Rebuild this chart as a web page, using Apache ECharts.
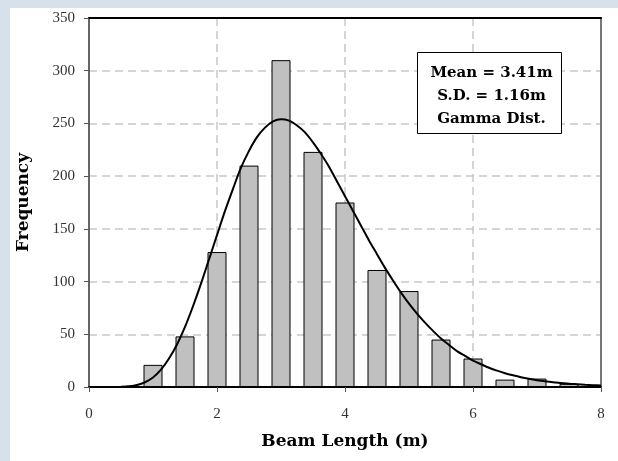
<!DOCTYPE html>
<html>
<head>
<meta charset="utf-8">
<script src="https://cdn.jsdelivr.net/npm/echarts@6/dist/echarts.min.js"></script>
<style>
  html, body { margin: 0; padding: 0; width: 618px; height: 461px; overflow: hidden; background: #d6e1ec; }
  #panel { position: absolute; left: 10px; top: 8px; right: 0; bottom: 0; background: #fff; }
  #chart { position: absolute; left: 0; top: 0; width: 618px; height: 461px; }
</style>
</head>
<body>
<div id="panel"></div>
<div id="chart"></div>
<script>
// histogram bins (bin centre, m) and counts
var binCentres = [1.0, 1.5, 2.0, 2.5, 3.0, 3.5, 4.0, 4.5, 5.0, 5.5, 6.0, 6.5, 7.0, 7.5];
var binCounts = [21, 48, 128, 210, 310, 223, 175, 111, 91, 45, 27, 7, 8, 3];

// fitted gamma curve (every 0.125 m)
var curveX = [0.5, 0.625, 0.75, 0.875, 1.0, 1.125, 1.25, 1.375, 1.5, 1.625, 1.75, 1.875,
    2.0, 2.125, 2.25, 2.375, 2.5, 2.625, 2.75, 2.875, 3.0, 3.125, 3.25, 3.375,
    3.5, 3.625, 3.75, 3.875, 4.0, 4.125, 4.25, 4.375, 4.5, 4.625, 4.75, 4.875,
    5.0, 5.125, 5.25, 5.375, 5.5, 5.625, 5.75, 5.875, 6.0, 6.125, 6.25, 6.375,
    6.5, 6.625, 6.75, 6.875, 7.0, 7.125, 7.25, 7.375, 7.5, 7.625, 7.75, 7.875, 8.0];
var curveY = [0.2, 0.7, 1.9, 4.5, 9, 16.4, 27, 40.3, 57, 76.6, 98, 121,
    144, 167, 188, 208, 224, 237, 246, 252, 254, 252.7, 248, 241.5,
    232, 221, 209, 195, 181, 167, 153, 139, 126, 113, 101, 89.5,
    79, 69.6, 61, 53.2, 46, 39.9, 34, 29.5, 25, 21.6, 18.3, 15.5,
    13.1, 11.1, 9.3, 7.8, 6.5, 5.4, 4.5, 3.8, 3.1, 2.6, 2.1, 1.7, 1.4];

var statLines = ['Mean = 3.41m', 'S.D. = 1.16m', 'Gamma Dist.'];

var serif = 'Liberation Serif';
var wideSerif = 'DejaVu Serif';

var barData = [], lineData = [];
for (var i = 0; i < binCentres.length; i++) {
    barData.push([binCentres[i], binCounts[i]]);
}
for (var j = 0; j < curveX.length; j++) {
    lineData.push([curveX[j], curveY[j]]);
}

var dashed = { show: true, lineStyle: { color: '#c8c8c8', width: 1.5, type: [8, 5] } };

var chart = echarts.init(document.getElementById('chart'));
var option = {
    backgroundColor: 'transparent',
    animation: false,
    grid: { left: 89, top: 18, right: 17, bottom: 74 },
    xAxis: [
        {
            type: 'value',
            min: 0, max: 8, interval: 2,
            name: 'Beam Length (m)',
            nameLocation: 'middle',
            nameGap: 46,
            nameTextStyle: { fontFamily: wideSerif, fontWeight: 'bold', fontSize: 17, color: '#000' },
            axisLine: { show: true, onZero: false, lineStyle: { color: '#000', width: 2 } },
            axisTick: { show: true, length: 5, lineStyle: { color: '#555' } },
            axisLabel: { fontFamily: serif, fontSize: 15, color: '#333', margin: 20 },
            splitLine: dashed
        },
        {
            type: 'value',
            position: 'top',
            min: 0, max: 8,
            axisLine: { show: true, onZero: false, lineStyle: { color: '#000', width: 2 } },
            axisTick: { show: false },
            axisLabel: { show: false },
            splitLine: { show: false }
        }
    ],
    yAxis: [
        {
            type: 'value',
            min: 0, max: 350, interval: 50,
            name: 'Frequency',
            nameLocation: 'middle',
            nameGap: 57,
            nameTextStyle: { fontFamily: wideSerif, fontWeight: 'bold', fontSize: 17, color: '#000' },
            axisLine: { show: true, onZero: false, lineStyle: { color: '#666', width: 2 } },
            axisTick: { show: true, length: 5, lineStyle: { color: '#555' } },
            axisLabel: { fontFamily: serif, fontSize: 15, color: '#333', margin: 14 },
            splitLine: dashed
        },
        {
            type: 'value',
            position: 'right',
            min: 0, max: 350,
            axisLine: { show: true, onZero: false, lineStyle: { color: '#777', width: 2 } },
            axisTick: { show: false },
            axisLabel: { show: false },
            splitLine: { show: false }
        }
    ],
    series: [
        {
            name: 'Frequency',
            type: 'bar',
            barWidth: 19,
            data: barData,
            itemStyle: { color: '#c0c0c0', borderColor: '#000', borderWidth: 1 }
        },
        {
            name: 'Gamma',
            type: 'line',
            smooth: 0.3,
            showSymbol: false,
            symbol: 'none',
            data: lineData,
            lineStyle: { color: '#000', width: 2 },
            z: 5
        }
    ],
    graphic: [
        {
            type: 'group',
            left: 417, top: 52,
            z: 100,
            children: [
                {
                    type: 'rect',
                    z: 100,
                    shape: { x: 0, y: 0, width: 144, height: 81 },
                    style: { fill: '#fff', stroke: '#000', lineWidth: 1 }
                },
                {
                    type: 'text',
                    z: 101,
                    style: {
                        x: 74, y: 44,
                        text: statLines.join('\n'),
                        fill: '#000',
                        font: 'bold 15px ' + wideSerif,
                        lineHeight: 23,
                        align: 'center',
                        verticalAlign: 'middle'
                    }
                }
            ]
        }
    ]
};
chart.setOption(option);
</script>
</body>
</html>
